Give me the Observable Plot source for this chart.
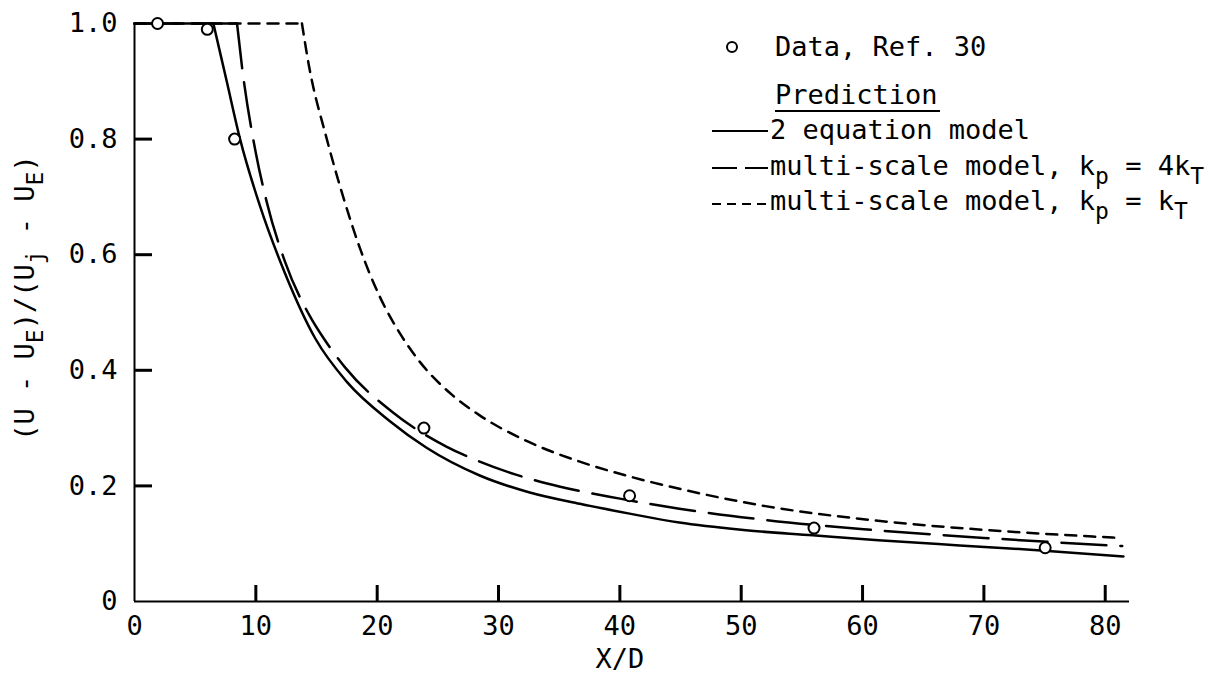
<!DOCTYPE html>
<html><head><meta charset="utf-8">
<script src="https://cdn.jsdelivr.net/npm/d3@7"></script>
<script src="https://cdn.jsdelivr.net/npm/@observablehq/plot@0.6"></script>
<style>
body{margin:0;background:#fff;}
#wrap{position:relative;width:1221px;height:693px;}
</style></head><body><div id="wrap"></div>
<script>
// Measured data (Ref. 30)
const dataX = [1.9, 6.0, 8.25, 23.85, 40.8, 56.0, 75.05];
const dataY = [1.0, 0.99, 0.80, 0.30, 0.183, 0.127, 0.093];

// 2 equation model
const twoEqX = [0, 6.5, 7.6, 8.7, 10.36, 12.4, 14.9, 17.5, 21.05, 24.07, 28.45, 32.5, 36.7, 40.8, 44.9, 50.0, 55.9, 61.3, 68.0, 75.0, 81.5];
const twoEqY = [1.0, 1.0, 0.90, 0.80, 0.683, 0.568, 0.455, 0.38, 0.312, 0.266, 0.218, 0.189, 0.169, 0.152, 0.1365, 0.124, 0.1145, 0.106, 0.097, 0.088, 0.078];

// multi-scale model, kp = 4kT
const ms4X = [0, 8.45, 8.86, 10.0, 10.9, 12.4, 14.5, 15.6, 17.35, 21.3, 25.7, 28.45, 31.5, 35.0, 40.0, 44.9, 52.0, 60.1, 70.0, 81.4];
const ms4Y = [1.0, 1.0, 0.925, 0.776, 0.691, 0.588, 0.492, 0.455, 0.405, 0.327, 0.268, 0.242, 0.219, 0.199, 0.178, 0.1605, 0.141, 0.125, 0.110, 0.096];

// multi-scale model, kp = kT
const ms1X = [0, 13.8, 14.35, 15.85, 17.2, 18.6, 20.2, 21.9, 23.5, 26.2, 28.45, 32.5, 36.7, 40.5, 44.9, 52.0, 61.1, 70.0, 81.2];
const ms1Y = [1.0, 1.0, 0.93, 0.80, 0.70, 0.61, 0.528, 0.463, 0.415, 0.357, 0.322, 0.276, 0.242, 0.218, 0.195, 0.165, 0.140, 0.124, 0.110];

const xTicks = [0, 10, 20, 30, 40, 50, 60, 70, 80];
const yTicks = [0, 0.2, 0.4, 0.6, 0.8, 1.0];
const yTickLabels = ["0", "0.2", "0.4", "0.6", "0.8", "1.0"];

const toRows = (xs, ys) => xs.map((x, i) => ({x, y: ys[i]}));
const font = "DejaVu Sans Mono";

const W = 1221, H = 693, mL = 134, mR = 92, mT = 23, mB = 92;
const frameW = W - mL - mR, frameH = H - mT - mB;

// split each prediction into its flat core part and its decay part (sharp corner)
function series(xs, ys, style) {
  const rows = toRows(xs, ys);
  return [
    Plot.line(rows.slice(0, 2), {x: "x", y: "y", ...style}),
    Plot.line(rows.slice(1), {x: "x", y: "y", curve: "monotone-x", ...style})
  ];
}

const chart = Plot.plot({
  width: W, height: H,
  marginLeft: mL, marginRight: mR, marginTop: mT, marginBottom: mB,
  x: {domain: [0, 82]},
  y: {domain: [0, 1]},
  style: {fontFamily: font, fontSize: "27px", color: "black", background: "white", overflow: "visible"},
  marks: [
    Plot.axisX(xTicks, {tickSize: 0, tickPadding: 14, label: null, tickFormat: d => String(d), fontSize: 27}),
    Plot.axisY(yTicks, {tickSize: 0, tickPadding: 17, label: null, tickFormat: d => yTickLabels[yTicks.indexOf(d)], fontSize: 27}),
    // inward tick marks
    Plot.ruleX(xTicks.slice(1), {x: d => d, insetTop: frameH - 16, stroke: "black", strokeWidth: 3}),
    Plot.ruleY(yTicks.slice(1, -1), {y: d => d, insetRight: frameW - 18, stroke: "black", strokeWidth: 3}),
    Plot.ruleX([0], {y1: 0, y2: 1, stroke: "black", strokeWidth: 2}),
    Plot.ruleY([0], {x1: 0, x2: 82, stroke: "black", strokeWidth: 2}),
    ...series(ms1X, ms1Y, {stroke: "black", strokeWidth: 2.5, strokeDasharray: "11,8"}),
    ...series(ms4X, ms4Y, {stroke: "black", strokeWidth: 2.5, strokeDasharray: "45,14"}),
    ...series(twoEqX, twoEqY, {stroke: "black", strokeWidth: 2.5}),
    Plot.dot(toRows(dataX, dataY), {x: "x", y: "y", r: 5.5, stroke: "black", strokeWidth: 2, fill: "white"}),
    Plot.text(["X/D"], {frameAnchor: "bottom", dy: 66, dx: -12, fontSize: 27, fill: "black"})
  ]
});
document.getElementById("wrap").appendChild(chart);

const svg = d3.select(chart);

function addText(g, x, y, parts, anchor = "start") {
  const t = g.append("text").attr("x", x).attr("y", y)
    .attr("font-family", font).attr("font-size", 27).attr("fill", "black")
    .attr("text-anchor", anchor);
  let off = 0;
  for (const [s, sub] of parts) {
    const want = sub ? 9 : 0;
    const ts = t.append("tspan").text(s).attr("dy", want - off);
    if (sub) ts.attr("font-size", 23);
    off = want;
  }
  return t;
}

// Y axis label
const yl = svg.append("g").attr("transform", "translate(34,298) rotate(-90)");
addText(yl, 0, 0, [["(U - U", false], ["E", true], [")/(U", false], ["j", true], [" - U", false], ["E", true], [")", false]], "middle");

// Legend
const lg = svg.append("g");
lg.append("circle").attr("cx", 732).attr("cy", 47).attr("r", 5).attr("fill", "white").attr("stroke", "black").attr("stroke-width", 2);
addText(lg, 775, 56, [["Data, Ref. 30", false]]);
addText(lg, 775, 104, [["Prediction", false]]);
lg.append("line").attr("x1", 775).attr("x2", 940).attr("y1", 111).attr("y2", 111).attr("stroke", "black").attr("stroke-width", 2);
const samples = [
  {y: 131, dash: null, label: [["2 equation model", false]], base: 139},
  {y: 168, dash: "25,8", label: [["multi-scale model, k", false], ["p", true], [" = 4k", false], ["T", true]], base: 175},
  {y: 204, dash: "9,6", label: [["multi-scale model, k", false], ["p", true], [" = k", false], ["T", true]], base: 210}
];
for (const s of samples) {
  const l = lg.append("line").attr("x1", 712).attr("x2", 768).attr("y1", s.y).attr("y2", s.y)
    .attr("stroke", "black").attr("stroke-width", 2);
  if (s.dash) l.attr("stroke-dasharray", s.dash);
  addText(lg, 770, s.base, s.label);
}
</script>
</body></html>
